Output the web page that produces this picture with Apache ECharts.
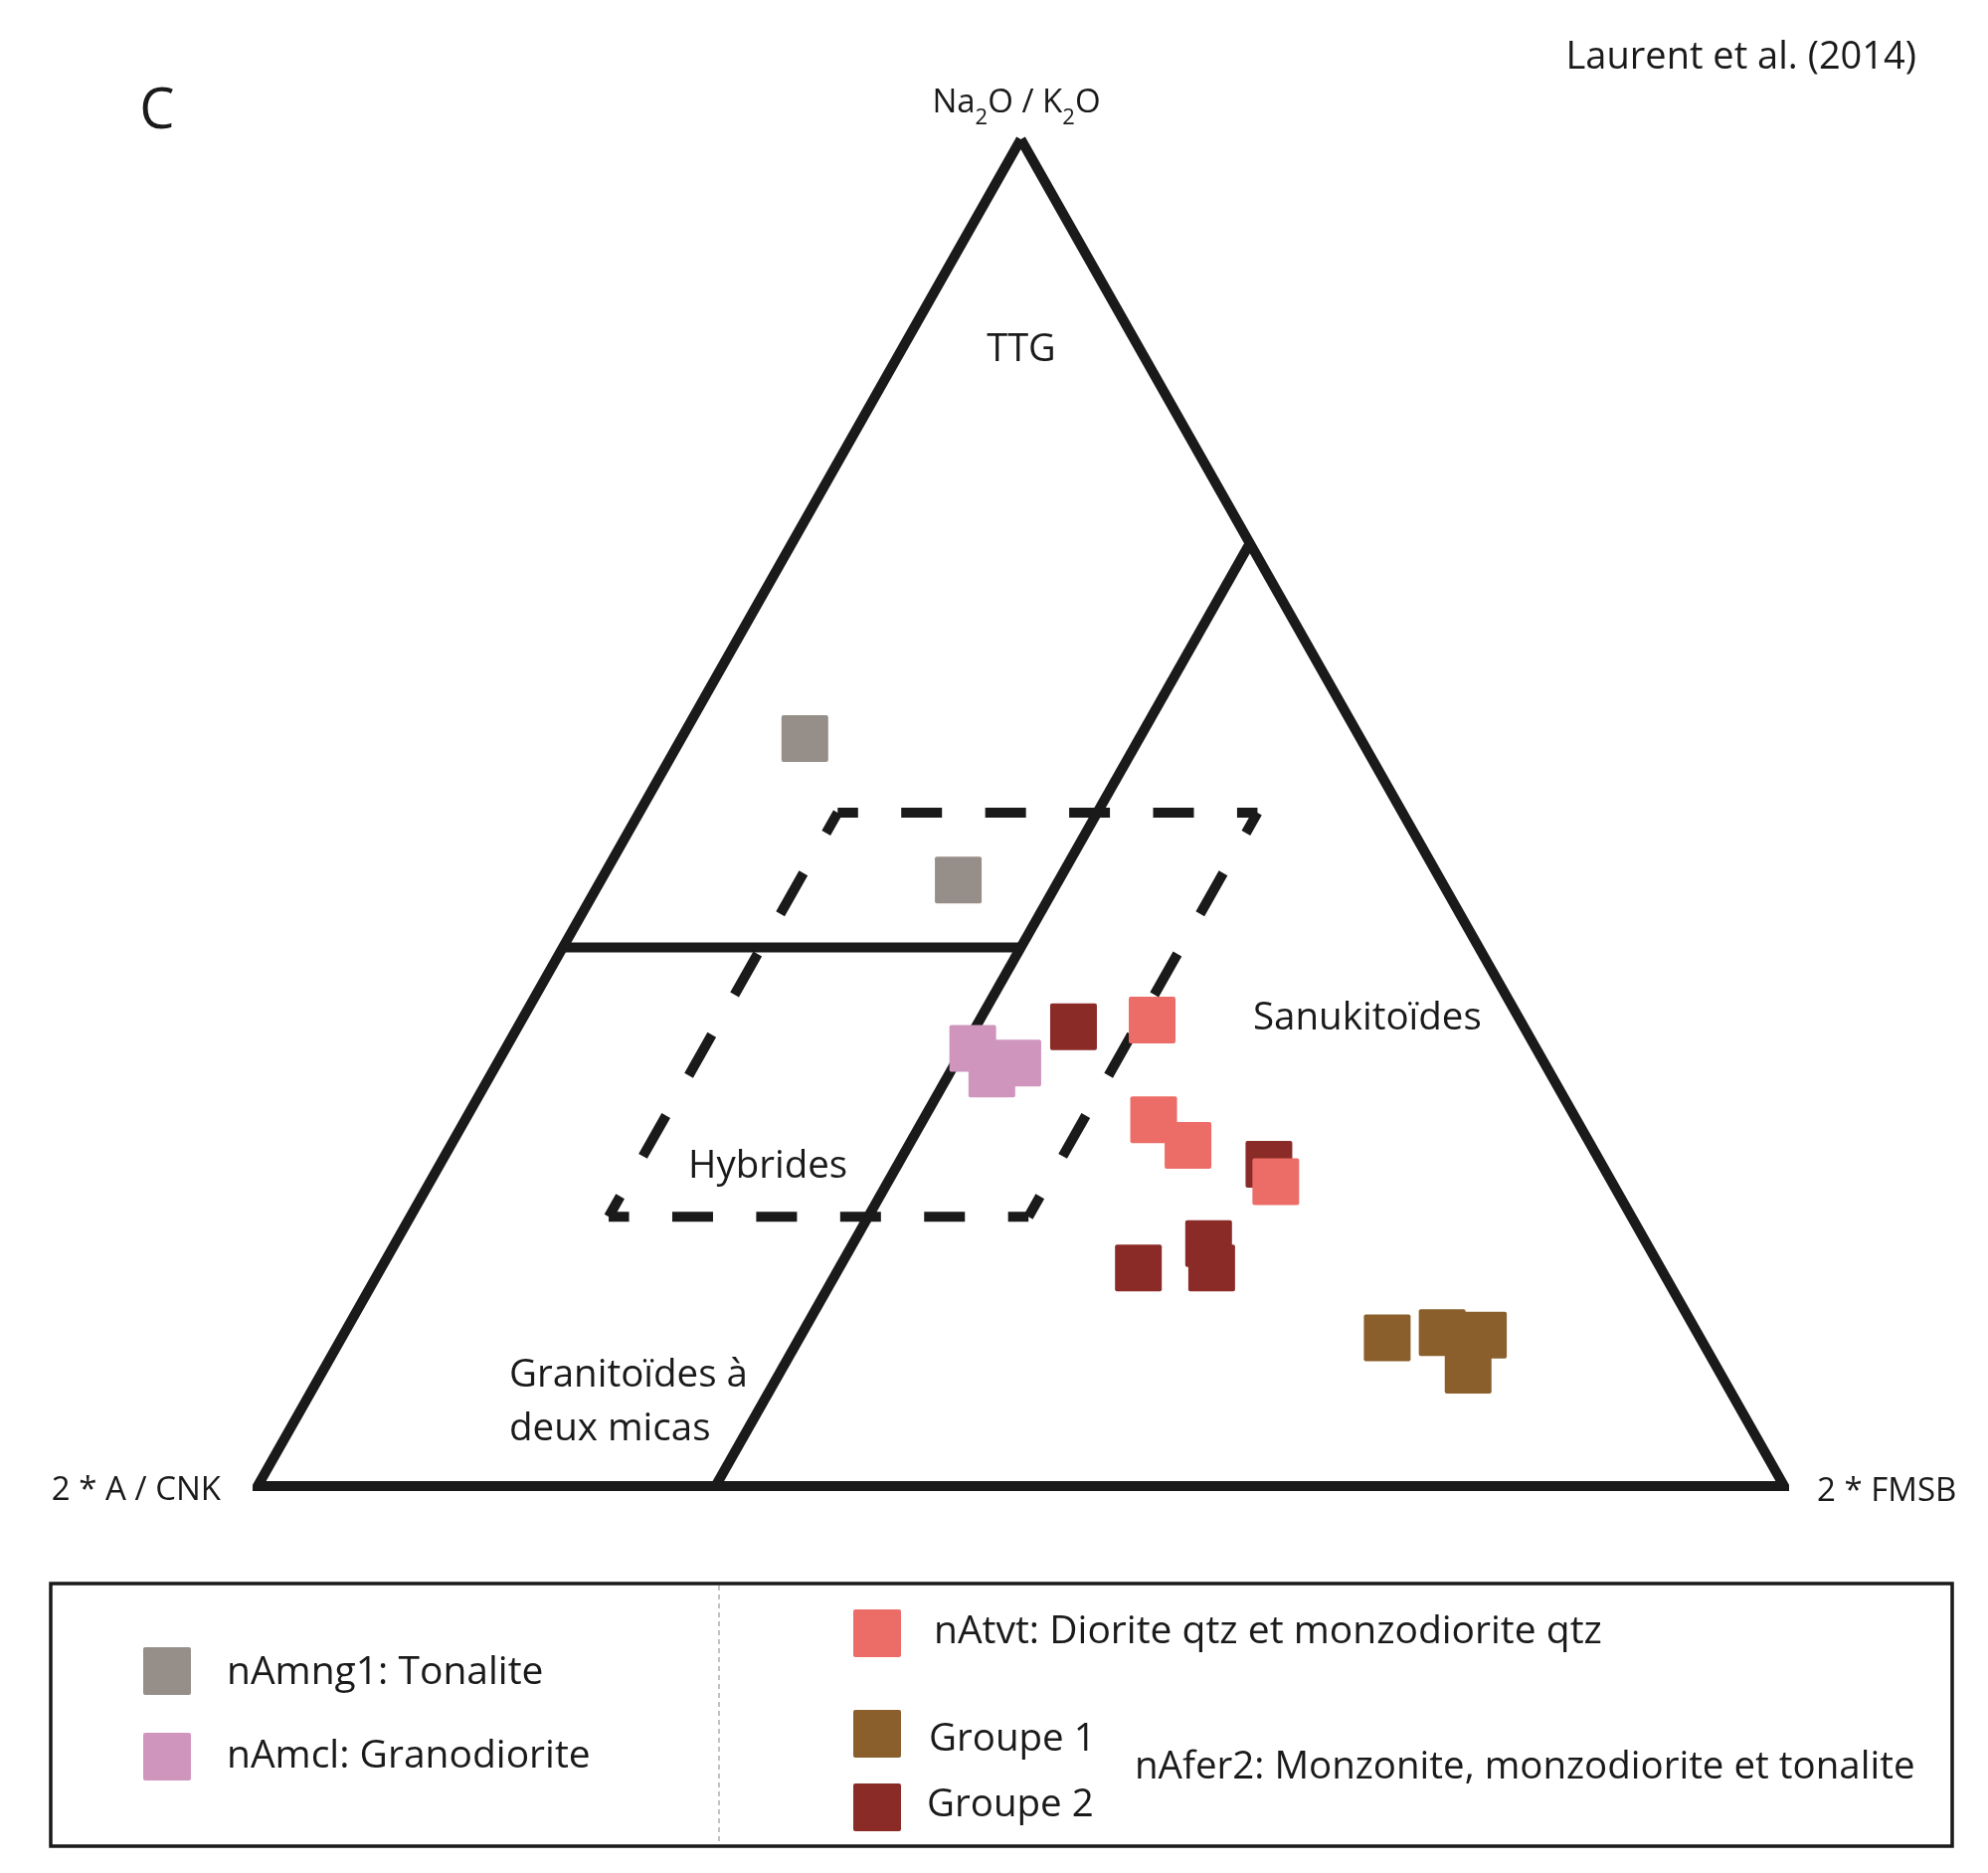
<!DOCTYPE html>
<html>
<head>
<meta charset="utf-8">
<script src="https://cdn.jsdelivr.net/npm/echarts@6/dist/echarts.min.js"></script>
<style>html,body{margin:0;padding:0;background:#fff}#c{width:1999px;height:1883px}</style>
</head>
<body>
<div id="c"></div>
<script>
// Ternary compositions: [Na2O/K2O (top), 2*A/CNK (left), 2*FMSB (right)] in %
const nAmng1 = [[55.5, 36.4, 8.1], [45.0, 31.6, 23.4]];
const nAmcl = [[32.5, 36.9, 30.6], [31.4, 34.5, 34.1], [30.6, 36.6, 32.8]];
const groupe2 = [[34.1, 29.5, 36.4], [23.9, 21.8, 54.3], [18.0, 28.7, 53.3], [16.2, 29.4, 54.4], [16.2, 34.2, 49.6]];
const nAtvt = [[34.6, 24.1, 41.3], [27.2, 27.7, 45.1], [25.3, 26.4, 48.3], [22.6, 22.0, 55.4]];
const groupe1 = [[11.0, 20.5, 68.5], [11.4, 16.7, 71.9], [11.2, 14.1, 74.7], [8.6, 16.4, 75.0]];

// Field boundaries (ternary)
const outline = [[100, 0, 0], [0, 100, 0], [0, 0, 100], [100, 0, 0]];
const ttgLine = [[40, 60, 0], [40, 30, 30]];
const sanLine = [[0, 70, 30], [70, 0, 30]];
const hybrides = [[20, 67, 13], [50, 37, 13], [50, 9.5, 40.5], [20, 39.5, 40.5]];

const FONT = "'Open Sans', sans-serif";
const INK = '#1a1a1a';
const COLORS = { grey: '#968f89', pink: '#d095bd', coral: '#ec6d67', brown: '#8b5f2b', dark: '#8a2b27' };

function toXY(p) { const s = p[0] + p[1] + p[2]; return [(p[2] + p[0] / 2) / s, p[0] / s]; }

const SQ = 'path://M2,0H45Q47,0 47,2V45Q47,47 45,47H2Q0,47 0,45V2Q0,0 2,0Z';

function lineSeries(pts, extra) {
  return Object.assign({
    type: 'line', data: pts.map(toXY), symbol: 'none', silent: true, animation: false,
    lineStyle: { color: INK, width: 10, cap: 'butt', join: 'miter', miterLimit: 10 }, z: 2
  }, extra || {});
}
function dashEdge(a, b, dash, gap) {
  return lineSeries([a, b], { lineStyle: { color: INK, width: 10, type: [dash, gap], dashOffset: dash / 2, cap: 'butt' }, z: 2 });
}
function scatter(name, pts, color, z) {
  return { type: 'scatter', name: name, data: pts.map(toXY), symbol: SQ, symbolSize: 47,
    itemStyle: { color: color, opacity: 1 }, silent: true, animation: false, z: z || 5 };
}

function txt(x, y, text, size, align, extra) {
  return { type: 'text', x: x, y: y, silent: true, z: 20,
    style: Object.assign({ text: text, fill: INK, font: size + 'px ' + FONT,
      align: align || 'left', textAlign: align || 'left', verticalAlign: 'middle', textVerticalAlign: 'middle' }, extra || {}) };
}
function legSq(cx, cy, color) {
  return { type: 'rect', silent: true, z: 20, shape: { x: cx - 24, y: cy - 24, width: 48, height: 48, r: 2 }, style: { fill: color } };
}

const LY = -8, LX = -5;
const graphic = [
  txt(158, 113, 'C', 56, 'center'),
  txt(1927, 58, 'Laurent et al. (2014)', 38, 'right'),
  { type: 'text', x: 1022, y: 100, silent: true, z: 20,
    style: { text: '{n|Na}{s|2}{n|O / K}{s|2}{n|O}', align: 'center', textAlign: 'center', verticalAlign: 'middle', textVerticalAlign: 'middle',
      rich: { n: { font: '33px ' + FONT, fill: INK, verticalAlign: 'bottom', lineHeight: 40 },
              s: { font: '22px ' + FONT, fill: INK, verticalAlign: 'bottom', lineHeight: 40, padding: [0, 0, -10, 0] } } } },
  txt(222, 1499, '2 * A / CNK', 33, 'right'),
  txt(1827, 1500, '2 * FMSB', 33, 'left'),
  txt(1027, 352, 'TTG', 38, 'center'),
  txt(1260, 1024, 'Sanukitoïdes', 38.5, 'left'),
  txt(692, 1173, 'Hybrides', 38.5, 'left'),
  txt(512, 1383, 'Granitoïdes à', 38.5, 'left'),
  txt(512, 1437, 'deux micas', 38.5, 'left'),
  // legend box
  { type: 'rect', silent: true, z: 10, shape: { x: 51, y: 1600 + LY, width: 1912, height: 264 }, style: { fill: 'none', stroke: INK, lineWidth: 3.5 } },
  { type: 'line', silent: true, z: 10, shape: { x1: 723, y1: 1602 + LY, x2: 723, y2: 1862 + LY }, style: { stroke: '#9a9a9a', lineWidth: 1.2, lineDash: [5, 4] } },
  legSq(168, 1688 + LY, COLORS.grey),
  txt(228, 1690 + LY, 'nAmng1: Tonalite', 39, 'left'),
  legSq(168, 1774 + LY, COLORS.pink),
  txt(228, 1774 + LY, 'nAmcl: Granodiorite', 39, 'left'),
  legSq(887 + LX, 1650 + LY, COLORS.coral),
  txt(944 + LX, 1649 + LY, 'nAtvt: Diorite qtz et monzodiorite qtz', 39, 'left'),
  legSq(887 + LX, 1751 + LY, COLORS.brown),
  txt(939 + LX, 1757 + LY, 'Groupe 1', 38.5, 'left'),
  legSq(887 + LX, 1825 + LY, COLORS.dark),
  txt(937 + LX, 1823 + LY, 'Groupe 2', 38.5, 'left'),
  txt(1146 + LX, 1785 + LY, 'nAfer2: Monzonite, monzodiorite et tonalite', 38.5, 'left')
];

function buildSeries(edgeLens) {
  const edges = [];
  for (let i = 0; i < 4; i++) {
    const a = hybrides[i], b = hybrides[(i + 1) % 4];
    const len = edgeLens ? edgeLens[i] : 400;
    const slanted = (i % 2 === 0);
    const n = 5;
    const period = len / n;
    const dash = slanted ? 47 : 41;
    edges.push(dashEdge(a, b, dash, period - dash));
  }
  return [
    lineSeries(outline),
    lineSeries(ttgLine),
    lineSeries(sanLine)
  ].concat(edges, [
    scatter('nAmng1', nAmng1, COLORS.grey, 5),
    scatter('nAmcl', nAmcl, COLORS.pink, 5),
    scatter('Groupe 1', groupe1, COLORS.brown, 5),
    scatter('Groupe 2', groupe2, COLORS.dark, 5),
    scatter('nAtvt', nAtvt, COLORS.coral, 6)
  ]);
}

const chart = echarts.init(document.getElementById('c'), null, { renderer: 'canvas' });
const baseOption = {
  backgroundColor: '#ffffff',
  animation: false,
  grid: { left: 259, right: 205, top: 140, bottom: 389, containLabel: false },
  xAxis: { type: 'value', min: 0, max: 1, show: false },
  yAxis: { type: 'value', min: 0, max: 1, show: false },
  series: buildSeries(null),
  graphic: graphic
};
chart.setOption(baseOption);
// measure hybrid-field edge lengths in pixels so dashes meet each corner
const px = hybrides.map(p => chart.convertToPixel({ gridIndex: 0 }, toXY(p)));
const lens = [0, 1, 2, 3].map(i => { const a = px[i], b = px[(i + 1) % 4]; return Math.hypot(b[0] - a[0], b[1] - a[1]); });
chart.setOption({ series: buildSeries(lens) }, { replaceMerge: ['series'] });
</script>
</body>
</html>
